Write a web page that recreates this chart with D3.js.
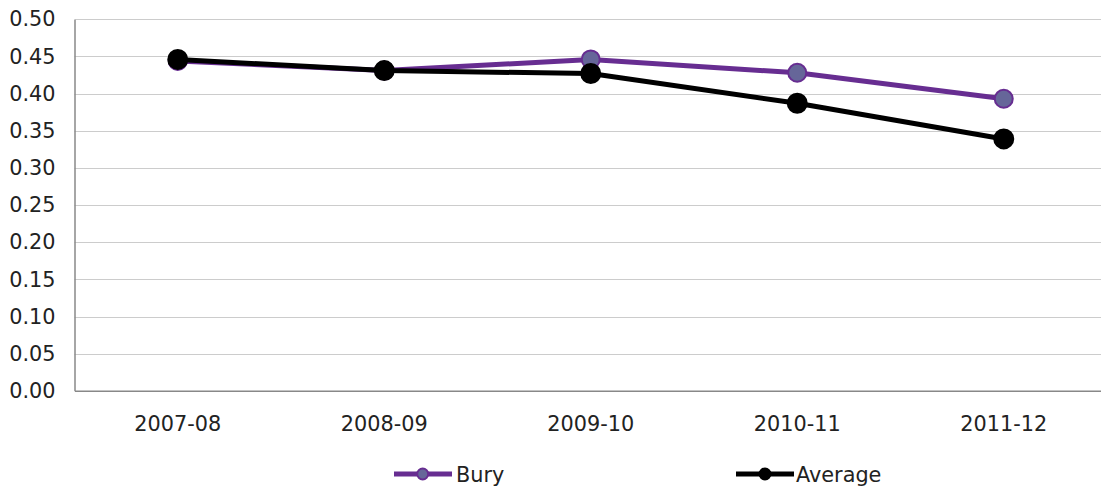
<!DOCTYPE html>
<html><head><meta charset="utf-8">
<script src="https://cdn.jsdelivr.net/npm/d3@7"></script>
<style>body{margin:0;background:#fff;} svg{display:block;font-family:"DejaVu Sans",Verdana,sans-serif;}</style>
</head><body>
<svg id="chart" width="1101" height="488"></svg>
<script>
const categories = ["2007-08","2008-09","2009-10","2010-11","2011-12"];
const bury = [0.444, 0.431, 0.446, 0.428, 0.393];
const average = [0.446, 0.431, 0.427, 0.387, 0.339];
const yTicks = [0,0.05,0.10,0.15,0.20,0.25,0.30,0.35,0.40,0.45,0.50];
const seriesNames = ["Bury","Average"];

(function(){
const svg = d3.select("#chart");
const mLeft = 74.5, mRight = 1107, mTop = 19.3, mBottom = 390.8;
const fs = 20.8;
const x = d3.scaleBand().domain(categories).range([mLeft, mRight]);
const y = d3.scaleLinear().domain([0,0.5]).range([mBottom, mTop]);

// gridlines
svg.append("g").selectAll("line").data(yTicks.slice(1)).join("line")
  .attr("x1", mLeft).attr("x2", 1101)
  .attr("y1", d => Math.round(y(d))+0.5).attr("y2", d => Math.round(y(d))+0.5)
  .attr("stroke", "#cccccc").attr("stroke-width", 1);

// y axis
const yAxis = svg.append("g").attr("transform", `translate(${mLeft},0)`)
  .call(d3.axisLeft(y).tickValues(yTicks).tickFormat(d3.format(".2f")).tickSize(0).tickPadding(19));
yAxis.select(".domain").attr("stroke", "#888").attr("stroke-width", 1.5);
yAxis.selectAll("text").attr("font-size", fs).attr("fill", "#222").attr("font-family", "DejaVu Sans");

// x axis
const xAxis = svg.append("g").attr("transform", `translate(0,${mBottom})`)
  .call(d3.axisBottom(x).tickSize(0).tickPadding(25));
xAxis.select(".domain").attr("stroke", "#888").attr("stroke-width", 1.5);
xAxis.selectAll("text").attr("font-size", fs).attr("fill", "#222").attr("font-family", "DejaVu Sans");

const cx = d => x(d) + x.bandwidth()/2;
const line = d3.line().x((d,i) => cx(categories[i])).y(d => y(d));

const styles = [
  {data: bury, stroke: "#672d91", fill: "#666699", r: 9},
  {data: average, stroke: "#000", fill: "#000", r: 9.5}
];
styles.forEach(s => {
  svg.append("path").datum(s.data).attr("d", line)
    .attr("fill", "none").attr("stroke", s.stroke).attr("stroke-width", 5).attr("stroke-linejoin","round");
  svg.append("g").selectAll("circle").data(s.data).join("circle")
    .attr("cx", (d,i) => cx(categories[i])).attr("cy", d => y(d)).attr("r", s.r)
    .attr("fill", s.fill).attr("stroke", s.stroke).attr("stroke-width", 2);
});

// legend
const legend = [
  {name: seriesNames[0], x1: 394, x2: 452, mx: 422.7, stroke: "#672d91", fill: "#666699", tx: 456},
  {name: seriesNames[1], x1: 736, x2: 794, mx: 765, stroke: "#000", fill: "#000", tx: 796}
];
const lg = svg.append("g");
legend.forEach(l => {
  lg.append("line").attr("x1", l.x1).attr("x2", l.x2).attr("y1", 474).attr("y2", 474)
    .attr("stroke", l.stroke).attr("stroke-width", 5);
  lg.append("circle").attr("cx", l.mx).attr("cy", 474).attr("r", 5.5)
    .attr("fill", l.fill).attr("stroke", l.stroke).attr("stroke-width", 2);
  lg.append("text").attr("x", l.tx).attr("y", 474).attr("dy", "0.38em")
    .attr("font-size", fs).attr("fill", "#222").text(l.name);
});
})();
</script>
</body></html>
